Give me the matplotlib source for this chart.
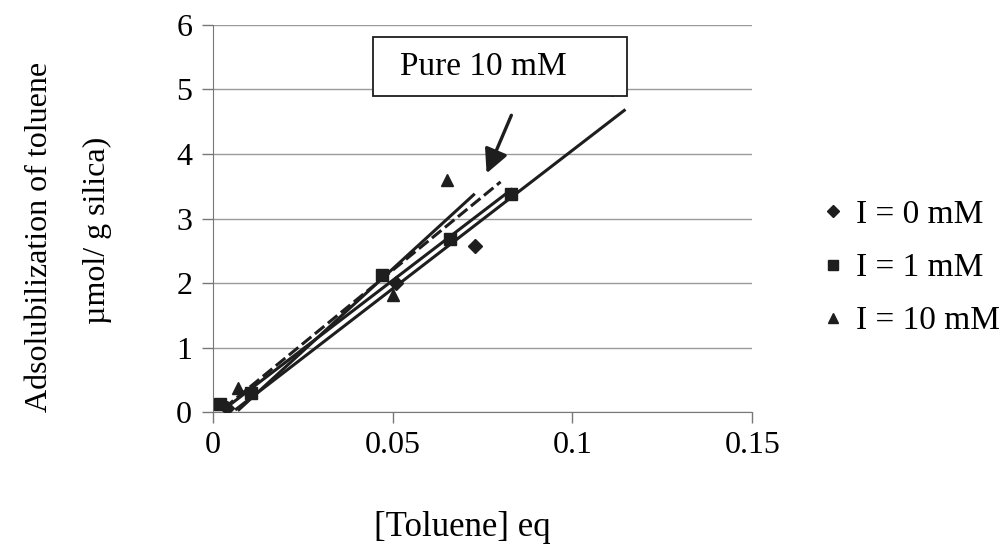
import numpy as np
import matplotlib
matplotlib.use("Agg")
import matplotlib.pyplot as plt
from matplotlib.patches import Rectangle

plt.rcParams['font.family'] = ['Liberation Serif', 'DejaVu Serif']

# data
x_i0 = [0.004, 0.051, 0.073, 0.111]
y_i0 = [0.06, 2.0, 2.58, 5.0]
x_i1 = [0.002, 0.0105, 0.047, 0.066, 0.083]
y_i1 = [0.12, 0.30, 2.12, 2.68, 3.38]
x_i10 = [0.007, 0.050, 0.065]
y_i10 = [0.37, 1.82, 3.60]

# trend lines: slope, intercept, x start, x end
fit_i0 = [42.9, -0.232, 0.0065, 0.1144]
fit_i1 = [42.6, -0.088, 0.003, 0.083]
fit_i10 = [51.0, -0.33, 0.0072, 0.0725]
fit_pure = [45.6, -0.08, 0.003, 0.080]

labels = ['I = 0 mM', 'I = 1 mM', 'I = 10 mM']
ink = '#1e1e1e'

fig = plt.figure(figsize=(10.04, 5.49), dpi=100)
ax = fig.add_axes([0.2122, 0.2495, 0.537, 0.705])

for k in range(7):
    ax.axhline(k, color='#9a9a9a', lw=1.0, zorder=0)

def trend(p, ls):
    xx = np.array([p[2], p[3]])
    ax.plot(xx, p[0] * xx + p[1], color=ink, lw=2.2, ls=ls, zorder=2)

trend(fit_i0, '-')
trend(fit_i1, '-')
trend(fit_i10, '-')
trend(fit_pure, (0, (4, 1.5)))

h0, = ax.plot(x_i0, y_i0, 'D', color=ink, ms=7, ls='none', zorder=3)
h1, = ax.plot(x_i1, y_i1, 's', color=ink, ms=8, ls='none', zorder=3)
h2, = ax.plot(x_i10, y_i10, '^', color=ink, ms=9, ls='none', zorder=3)

# label box + arrow
ax.add_patch(Rectangle((0.0444, 4.9), 0.0709, 0.91, facecolor='white',
                       edgecolor=ink, lw=1.3, zorder=5))
ax.text(0.0520, 5.36, 'Pure 10 mM', fontsize=24, va='center', ha='left', zorder=6)
ax.annotate('', xy=(0.0758, 3.66), xytext=(0.0833, 4.64),
            arrowprops=dict(arrowstyle='-|>', color=ink, lw=2.4,
                            mutation_scale=36), zorder=6)

ax.set_xlim(0, 0.15)
ax.set_ylim(0, 6)
ax.set_xticks([0, 0.05, 0.1, 0.15])
ax.set_xticklabels(['0', '0.05', '0.1', '0.15'])
ax.set_yticks(range(7))
ax.tick_params(axis='both', labelsize=23, color='#777777', length=8, width=1)
ax.tick_params(axis='x', pad=6)
ax.tick_params(axis='y', pad=7)
for s in ['top', 'right']:
    ax.spines[s].set_visible(False)
for s in ['left', 'bottom']:
    ax.spines[s].set_color('#777777')

fig.text(462 / 1004, 1 - 528 / 549, '[Toluene] eq', fontsize=25,
         ha='center', va='center')
fig.text(40 / 1004, 1 - 237 / 549, 'Adsolubilization of toluene', rotation=90,
         fontsize=23, ha='center', va='center')
fig.text(97 / 1004, 1 - 230 / 549, '\u00b5mol/ g silica)', rotation=90,
         fontsize=23, ha='center', va='center')

fig.legend([h0, h1, h2], labels, loc='center left', frameon=False,
           bbox_to_anchor=(816 / 1004, 1 - 268 / 549), fontsize=24,
           handletextpad=0.2, labelspacing=0.68, handlelength=1.0,
           markerscale=0.85, borderaxespad=0, borderpad=0)

fig.savefig('out.png', dpi=100)
